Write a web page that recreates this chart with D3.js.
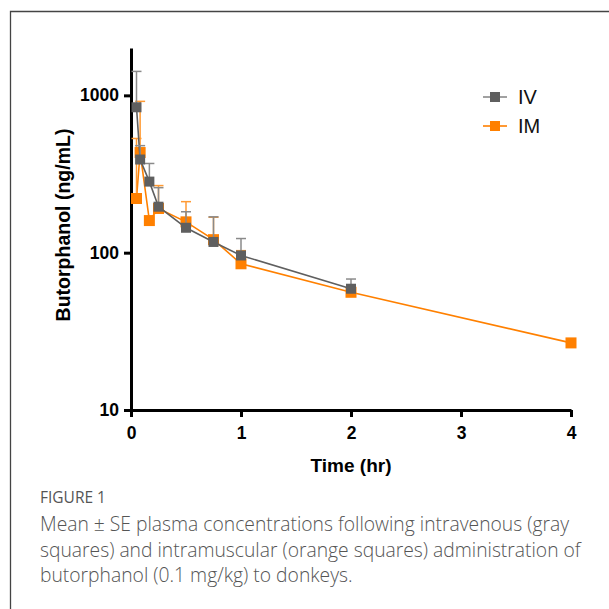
<!DOCTYPE html>
<html>
<head>
<meta charset="utf-8">
<script src="https://cdn.jsdelivr.net/npm/d3@7"></script>
<style>
  html, body { margin: 0; padding: 0; background: #fff; }
  svg { display: block; }
</style>
</head>
<body>
<div id="chart"></div>
<script>
// Data (time in hr, concentration in ng/mL)
const ivTimes = [0.05, 0.083, 0.167, 0.25, 0.5, 0.75, 1, 2];
const ivMean  = [840, 391, 283, 196, 144, 117, 96, 59];
const ivSE    = [580, 88, 86, 63, 38, 52, 27, 9];

const imTimes = [0.05, 0.083, 0.167, 0.25, 0.5, 0.75, 1, 2, 4];
const imMean  = [221, 433, 160, 191, 157, 121, 85, 56, 26.7];
const imSE    = [311, 483, 0, 76, 54, 47, 18, 0, 0];

const xTicks = [0, 1, 2, 3, 4];
const yTicks = [10, 100, 1000];

const captionLines = [
  "Mean \u00b1 SE plasma concentrations following intravenous (gray",
  "squares) and intramuscular (orange squares) administration of",
  "butorphanol (0.1 mg/kg) to donkeys."
];

var W = 609, H = 609;

var svg = d3.select("#chart").append("svg")
    .attr("width", W)
    .attr("height", H);

// figure frame (top and left edges only are visible)
svg.append("path")
    .attr("d", "M10.5," + H + "V11.5H" + W)
    .attr("fill", "none")
    .attr("stroke", "#444")
    .attr("stroke-width", 1.3);

// scales
var x = d3.scaleLinear().domain([0, 4]).range([131, 571]);
var y = d3.scaleLog().domain([10, 2000]).range([410, 48]);

var axisFont = "'Liberation Sans', Arial, sans-serif";

// axes
var xAxis = svg.append("g")
    .attr("transform", "translate(0,410)")
    .call(d3.axisBottom(x).tickValues(xTicks).tickFormat(d3.format("d")).tickSize(7).tickSizeOuter(0).tickPadding(10));

var yAxis = svg.append("g")
    .attr("transform", "translate(131,0)")
    .call(d3.axisLeft(y).tickValues(yTicks).tickFormat(d3.format("d")).tickSize(7).tickSizeOuter(0).tickPadding(5));

[xAxis, yAxis].forEach(function (g) {
    g.select(".domain").attr("stroke", "#000").attr("stroke-width", 3);
    g.selectAll(".tick line").attr("stroke", "#000").attr("stroke-width", 3);
    g.selectAll(".tick text")
        .attr("fill", "#000")
        .style("font-family", axisFont)
        .style("font-weight", "bold")
        .style("font-size", "17.5px");
});

// axis titles
svg.append("text")
    .attr("x", 351)
    .attr("y", 472)
    .attr("text-anchor", "middle")
    .style("font-family", axisFont)
    .style("font-weight", "bold")
    .style("font-size", "19px")
    .text("Time (hr)");

svg.append("text")
    .attr("transform", "translate(70,225) rotate(-90)")
    .attr("text-anchor", "middle")
    .style("font-family", axisFont)
    .style("font-weight", "bold")
    .style("font-size", "19.5px")
    .text("Butorphanol (ng/mL)");

// series
function drawSeries(times, mean, se, lineColor, errColor, size) {
    var pts = times.map(function (t, i) { return { t: t, m: mean[i], s: se[i] }; });
    var g = svg.append("g");

    g.append("path")
        .datum(pts)
        .attr("fill", "none")
        .attr("stroke", lineColor)
        .attr("stroke-width", 1.6)
        .attr("d", d3.line().x(function (d) { return x(d.t); }).y(function (d) { return y(d.m); }));

    var err = pts.filter(function (d) { return d.s > 0; });
    g.selectAll(".err")
        .data(err)
        .join("line")
        .attr("x1", function (d) { return x(d.t); })
        .attr("x2", function (d) { return x(d.t); })
        .attr("y1", function (d) { return y(d.m); })
        .attr("y2", function (d) { return y(d.m + d.s); })
        .attr("stroke", errColor)
        .attr("stroke-width", 1.5);
    g.selectAll(".cap")
        .data(err)
        .join("line")
        .attr("x1", function (d) { return x(d.t) - 5; })
        .attr("x2", function (d) { return x(d.t) + 5; })
        .attr("y1", function (d) { return y(d.m + d.s); })
        .attr("y2", function (d) { return y(d.m + d.s); })
        .attr("stroke", errColor)
        .attr("stroke-width", 1.5);

    g.selectAll("rect")
        .data(pts)
        .join("rect")
        .attr("x", function (d) { return x(d.t) - size / 2; })
        .attr("y", function (d) { return y(d.m) - size / 2; })
        .attr("width", size)
        .attr("height", size)
        .attr("fill", lineColor);
}

drawSeries(imTimes, imMean, imSE, "#ff8000", "#ff9a33", 11);
drawSeries(ivTimes, ivMean, ivSE, "#5f5f5f", "#8a8a8a", 10);

// legend
var legend = [
    { name: "IV", color: "#5f5f5f", line: "#8a8a8a", y: 97 },
    { name: "IM", color: "#ff8000", line: "#ff8000", y: 126 }
];
var lg = svg.append("g");
legend.forEach(function (d) {
    lg.append("line")
        .attr("x1", 483).attr("x2", 507)
        .attr("y1", d.y).attr("y2", d.y)
        .attr("stroke", d.line).attr("stroke-width", 1.6);
    lg.append("rect")
        .attr("x", 490).attr("y", d.y - 5)
        .attr("width", 10).attr("height", 10)
        .attr("fill", d.color);
    lg.append("text")
        .attr("x", 518).attr("y", d.y + 7)
        .style("font-family", axisFont)
        .style("font-size", "20px")
        .attr("fill", "#111")
        .text(d.name);
});

// caption
svg.append("text")
    .attr("x", 40).attr("y", 503)
    .style("font-family", "'Open Sans', sans-serif")
    .style("font-size", "15.5px")
    .attr("fill", "#555")
    .text("FIGURE 1");

svg.append("g").selectAll("text")
    .data(captionLines)
    .join("text")
    .attr("x", 40)
    .attr("y", function (d, i) { return 531 + i * 25.5; })
    .style("font-family", "'Open Sans', sans-serif")
    .style("font-size", "19.3px")
    .style("font-weight", 300)
    .attr("fill", "#555")
    .text(function (d) { return d; });
</script>
</body>
</html>
